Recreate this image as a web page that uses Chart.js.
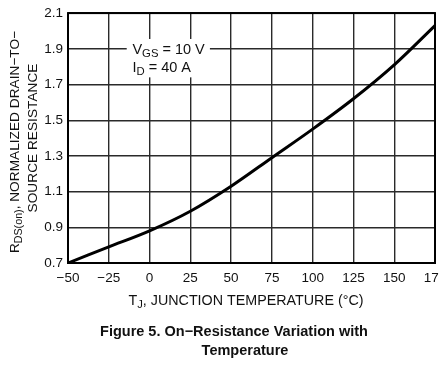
<!DOCTYPE html>
<html>
<head>
<meta charset="utf-8">
<script src="https://cdn.jsdelivr.net/npm/chart.js@4"></script>
<style>
  html, body { margin: 0; padding: 0; background: #fff; overflow: hidden; width: 439px; height: 369px; }
  #wrap { position: relative; width: 460px; height: 369px; }
  canvas { display: block; }
</style>
</head>
<body>
<div id="wrap"><canvas id="c" width="460" height="369"></canvas></div>
<script>
// ---- data ----
const temperatures = [-50, -25, 0, 25, 50, 75, 100, 125, 150, 175];
const normalizedRds = [0.70, 0.79, 0.88, 0.99, 1.13, 1.29, 1.45, 1.62, 1.81, 2.03];
const xTicks = [-50, -25, 0, 25, 50, 75, 100, 125, 150, 175];
const yLabelTicks = [0.7, 0.9, 1.1, 1.3, 1.5, 1.7, 1.9, 2.1];
const conditionLines = [["V", "GS", " = 10 V"], ["I", "D", " = 40 A"]];
const xTitleParts = ["T", "J", ", JUNCTION TEMPERATURE (°C)"];
const yTitleLine1 = ["R", "DS(on)", ", NORMALIZED DRAIN\u2212TO\u2212"];
const yTitleLine2 = "SOURCE RESISTANCE";
const captionLines = ["Figure 5. On\u2212Resistance Variation with", "Temperature"];

const FONT = '"Liberation Sans", Arial, Helvetica, sans-serif';
const INK = '#111';

function drawSubText(ctx, parts, x, y, size, align) {
  ctx.font = size + 'px ' + FONT;
  const w0 = ctx.measureText(parts[0]).width;
  const w2 = ctx.measureText(parts[2]).width;
  const subSize = Math.round(size * 0.78 * 10) / 10;
  ctx.font = subSize + 'px ' + FONT;
  const w1 = ctx.measureText(parts[1]).width;
  const total = w0 + w1 + w2;
  let sx = x;
  if (align === 'center') sx = x - total / 2;
  ctx.textAlign = 'left';
  ctx.textBaseline = 'alphabetic';
  ctx.font = size + 'px ' + FONT;
  ctx.fillText(parts[0], sx, y);
  ctx.font = subSize + 'px ' + FONT;
  ctx.fillText(parts[1], sx + w0, y + size * 0.22);
  ctx.font = size + 'px ' + FONT;
  ctx.fillText(parts[2], sx + w0 + w1, y);
  return total;
}

const decor = {
  id: 'decor',
  afterDraw(chart) {
    const ctx = chart.ctx;
    const xs = chart.scales.x, ys = chart.scales.y;
    const a = chart.chartArea;
    ctx.save();
    ctx.fillStyle = INK;

    // condition box
    const bx0 = xs.getPixelForValue(-14), bx1 = xs.getPixelForValue(37);
    const by0 = ys.getPixelForValue(1.955), by1 = ys.getPixelForValue(1.74);
    ctx.fillStyle = '#fff';
    ctx.fillRect(bx0, by0, bx1 - bx0, by1 - by0);
    ctx.fillStyle = INK;
    const tx = xs.getPixelForValue(-10.5);
    drawSubText(ctx, conditionLines[0], tx, ys.getPixelForValue(1.9) + 5, 14.5, 'left');
    drawSubText(ctx, conditionLines[1], tx, ys.getPixelForValue(1.8) + 5, 14.5, 'left');

    // frame
    ctx.strokeStyle = '#000';
    ctx.lineWidth = 2;
    ctx.strokeRect(a.left, a.top, a.right - a.left, a.bottom - a.top);

    // x title
    drawSubText(ctx, xTitleParts, 246, 305, 14.3, 'center');

    // y title (rotated)
    ctx.save();
    ctx.translate(19, 142);
    ctx.rotate(-Math.PI / 2);
    drawSubText(ctx, yTitleLine1, 0, 0, 13.7, 'center');
    ctx.restore();
    ctx.save();
    ctx.translate(37, 138);
    ctx.rotate(-Math.PI / 2);
    ctx.font = '13.7px ' + FONT;
    ctx.textAlign = 'center';
    ctx.textBaseline = 'alphabetic';
    ctx.fillText(yTitleLine2, 0, 0);
    ctx.restore();

    // caption
    ctx.font = 'bold 14.5px ' + FONT;
    ctx.textAlign = 'center';
    ctx.textBaseline = 'alphabetic';
    ctx.fillText(captionLines[0], 234, 336);
    ctx.fillText(captionLines[1], 245, 355);
    ctx.restore();
  }
};

new Chart(document.getElementById('c'), {
  type: 'line',
  data: {
    datasets: [{
      data: temperatures.map((t, i) => ({ x: t, y: normalizedRds[i] })),
      borderColor: '#000',
      borderWidth: 3,
      pointRadius: 0,
      fill: false,
      cubicInterpolationMode: 'monotone'
    }]
  },
  options: {
    responsive: false,
    animation: false,
    devicePixelRatio: 1,
    layout: { padding: { left: 0, right: 25, top: 10, bottom: 76 } },
    plugins: { legend: { display: false }, tooltip: { enabled: false } },
    scales: {
      x: {
        type: 'linear',
        min: -50, max: 175,
        afterBuildTicks: s => { s.ticks = xTicks.map(v => ({ value: v })); },
        afterFit: s => { s.height = 30; },
        grid: { color: '#2a2a2a', lineWidth: 1.4, drawTicks: false },
        border: { display: false },
        ticks: {
          padding: 7,
          color: INK,
          font: { family: FONT, size: 13.5 },
          maxRotation: 0,
          callback: v => (v < 0 ? '\u2212' + Math.abs(v) : String(v))
        }
      },
      y: {
        type: 'linear',
        min: 0.7, max: 2.1,
        ticks: {
          stepSize: 0.1,
          padding: 5,
          color: INK,
          font: { family: FONT, size: 13.5 },
          callback: v => {
            const r = Math.round(v * 10) / 10;
            return yLabelTicks.some(t => Math.abs(t - r) < 1e-6) ? r.toFixed(1) : '';
          }
        },
        afterFit: s => { s.width = 68; },
        grid: { color: '#2a2a2a', lineWidth: 1.4, drawTicks: false },
        border: { display: false }
      }
    }
  },
  plugins: [decor]
});
</script>
</body>
</html>
